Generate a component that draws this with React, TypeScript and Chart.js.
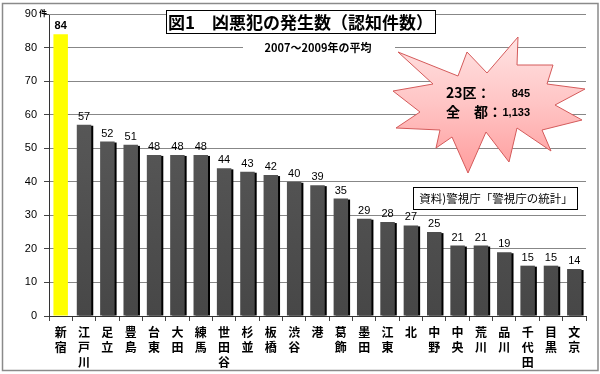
import React, { useEffect, useRef } from 'react';
import { Chart, registerables } from 'chart.js';

Chart.register(...registerables);

const categories = ['新宿', '江戸川', '足立', '豊島', '台東', '大田', '練馬', '世田谷', '杉並', '板橋', '渋谷', '港', '葛飾', '墨田', '江東', '北', '中野', '中央', '荒川', '品川', '千代田', '目黒', '文京'];
const values = [84, 57, 52, 51, 48, 48, 48, 44, 43, 42, 40, 39, 35, 29, 28, 27, 25, 21, 21, 19, 15, 15, 14];
const highlightIndex = 0;
const yMin = 0;
const yMax = 90;
const yStep = 10;
const titleText = '図1　凶悪犯の発生数（認知件数）';
const subtitleText = '2007～2009年の平均';
const unitText = '件';
const totalLabels = ['23区：', '全　都：'];
const totalValues = ['845', '1,133'];
const sourceText = '資料)警視庁「警視庁の統計」';

const JP = '"Noto Sans CJK JP", "Noto Sans", sans-serif';
const NUM = '"Liberation Sans", Arial, sans-serif';

// star-burst outline, relative to its centre
const starPts: [number, number][] = [
  [-92, -53], [-32, -29], [-23, -53], [-3, -32], [28, -68], [27, -40], [63, -40], [57, -21],
  [95, -16], [65, 0], [92, 15], [52, 25], [61, 46], [27, 23], [19, 57], [-4, 27],
  [-22, 68], [-38, 32], [-54, 43], [-50, 25], [-94, 23], [-70, 7], [-97, -14], [-57, -21],
];

const decorPlugin = {
  id: 'decor',
  beforeDatasetsDraw(chart: any) {
    const ctx = chart.ctx;
    const ca = chart.chartArea;
    const ys = chart.scales.y;
    const meta = chart.getDatasetMeta(0);
    ctx.save();
    // make sure top gridline is visible
    const ty = Math.round(ys.getPixelForValue(yMax)) + 0.5;
    ctx.strokeStyle = '#878787';
    ctx.lineWidth = 1;
    ctx.beginPath();
    ctx.moveTo(ca.left, ty);
    ctx.lineTo(ca.right, ty);
    ctx.stroke();
    ctx.fillStyle = '#000';
    meta.data.forEach((bar: any, i: number) => {
      if (i === highlightIndex) return;
      const p = bar.getProps(['x', 'y', 'base', 'width'], true);
      ctx.fillRect(p.x - p.width / 2 + 2, p.y + 1, p.width, p.base - p.y - 1);
    });
    ctx.restore();
  },
  afterDatasetsDraw(chart: any) {
    const ctx = chart.ctx;
    const meta = chart.getDatasetMeta(0);
    ctx.save();
    ctx.fillStyle = '#000';
    ctx.textAlign = 'center';
    ctx.textBaseline = 'alphabetic';
    meta.data.forEach((bar: any, i: number) => {
      const p = bar.getProps(['x', 'y'], true);
      ctx.font = (i === highlightIndex ? 'bold ' : '') + '11px ' + NUM;
      ctx.fillText(String(values[i]), p.x, p.y - 5);
    });
    ctx.restore();
  },
  afterDraw(chart: any) {
    const ctx = chart.ctx;
    const ca = chart.chartArea;
    const ys = chart.scales.y;
    ctx.save();

    // outer frame
    ctx.strokeStyle = '#8a8a8a';
    ctx.lineWidth = 1.5;
    ctx.strokeRect(2.5, 3.5, 595.5, 367);

    // unit
    ctx.fillStyle = '#000';
    ctx.font = 'bold 8px ' + JP;
    ctx.textAlign = 'left';
    ctx.textBaseline = 'middle';
    ctx.fillText(unitText, ca.left - 10, ys.getPixelForValue(yMax) - 1);

    // title
    const tx0 = 166, ty0 = 10, tw = 269, th = 23;
    ctx.fillStyle = '#fff';
    ctx.fillRect(tx0, ty0, tw, th);
    ctx.strokeStyle = '#000';
    ctx.lineWidth = 1;
    ctx.strokeRect(tx0 + 0.5, ty0 + 0.5, tw, th);
    ctx.fillStyle = '#000';
    ctx.font = 'bold 17px ' + JP;
    ctx.textAlign = 'center';
    ctx.textBaseline = 'middle';
    ctx.fillText(titleText, tx0 + tw / 2, ty0 + th / 2 + 1);

    // subtitle
    const sy = ys.getPixelForValue(80);
    ctx.fillStyle = '#fff';
    ctx.fillRect(243, sy - 7, 152, 14);
    ctx.fillStyle = '#000';
    ctx.font = 'bold 11px ' + JP;
    ctx.fillText(subtitleText, 318, sy + 0.5);

    // star burst
    const cx = 490, cy = 105;
    const g = ctx.createLinearGradient(0, cy - 68, 0, cy + 68);
    g.addColorStop(0, '#ffe3e3');
    g.addColorStop(0.5, '#ffc4c4');
    g.addColorStop(1, '#ff9d9d');
    ctx.beginPath();
    starPts.forEach(([dx, dy], i) => {
      if (i === 0) ctx.moveTo(cx + dx, cy + dy);
      else ctx.lineTo(cx + dx, cy + dy);
    });
    ctx.closePath();
    ctx.fillStyle = g;
    ctx.fill();
    ctx.strokeStyle = '#d45a5a';
    ctx.lineWidth = 1;
    ctx.stroke();

    ctx.fillStyle = '#000';
    ctx.textBaseline = 'middle';
    const lineY = [93, 112];
    totalLabels.forEach((lab, i) => {
      ctx.textAlign = 'left';
      ctx.font = 'bold 14px ' + JP;
      ctx.fillText(lab, 446, lineY[i]);
      ctx.textAlign = 'right';
      ctx.font = 'bold 11px ' + NUM;
      ctx.fillText(totalValues[i], 530, lineY[i] + 1);
    });

    // source box
    const bx = 413, by = 187, bw = 164, bh = 22;
    ctx.fillStyle = '#fff';
    ctx.fillRect(bx, by, bw, bh);
    ctx.strokeStyle = '#000';
    ctx.strokeRect(bx + 0.5, by + 0.5, bw, bh);
    ctx.fillStyle = '#000';
    ctx.font = '11.5px ' + JP;
    ctx.textAlign = 'center';
    ctx.fillText(sourceText, bx + bw / 2 + 1, by + bh / 2 + 1);

    ctx.restore();
  },
};

export default function App() {
  const ref = useRef<HTMLCanvasElement>(null);
  useEffect(() => {
    const canvas = ref.current;
    if (!canvas) return;
    const chart = new Chart(canvas, {
      type: 'bar',
      data: {
        labels: categories,
        datasets: [
          {
            data: values,
            backgroundColor: (c: any) => {
              if (c.dataIndex === highlightIndex) return '#ffff00';
              const ca = c.chart.chartArea;
              if (!ca) return '#555555';
              const gr = c.chart.ctx.createLinearGradient(0, ca.bottom, 0, ca.top);
              gr.addColorStop(0, '#474747');
              gr.addColorStop(0.5, '#545454');
              gr.addColorStop(1, '#5e5e5e');
              return gr;
            },
            borderWidth: 0,
            categoryPercentage: 1,
            barPercentage: 0.62,
          },
        ],
      },
      options: {
        responsive: false,
        animation: false,
        events: [],
        layout: { padding: { left: 0, right: 14, top: 14, bottom: 0 } },
        plugins: { legend: { display: false }, tooltip: { enabled: false } },
        scales: {
          x: {
            afterFit: (s: any) => { s.height = 58; },
            border: { color: '#333', width: 1 },
            grid: { display: true, drawOnChartArea: false, drawTicks: true, tickLength: 5, color: '#444', offset: true },
            ticks: {
              autoSkip: false,
              maxRotation: 0,
              minRotation: 0,
              padding: 4,
              color: '#000',
              font: { family: JP, size: 12, weight: 'bold', lineHeight: 1.25 },
              callback: (_v: any, i: number) => categories[i].split(''),
            },
          },
          y: {
            min: yMin,
            max: yMax,
            afterFit: (s: any) => { s.width = 49; },
            border: { color: '#333', width: 1 },
            grid: { color: '#878787', lineWidth: 1, tickColor: '#444', tickLength: 5 },
            ticks: {
              stepSize: yStep,
              padding: 7,
              color: '#000',
              font: { family: NUM, size: 11 },
            },
          },
        },
      },
      plugins: [decorPlugin],
    } as any);
    return () => chart.destroy();
  }, []);
  return (
    <div style={{ position: 'absolute', left: 0, top: 0, width: 600, height: 374, background: '#fff' }}>
      <canvas ref={ref} width={600} height={374} />
    </div>
  );
}
